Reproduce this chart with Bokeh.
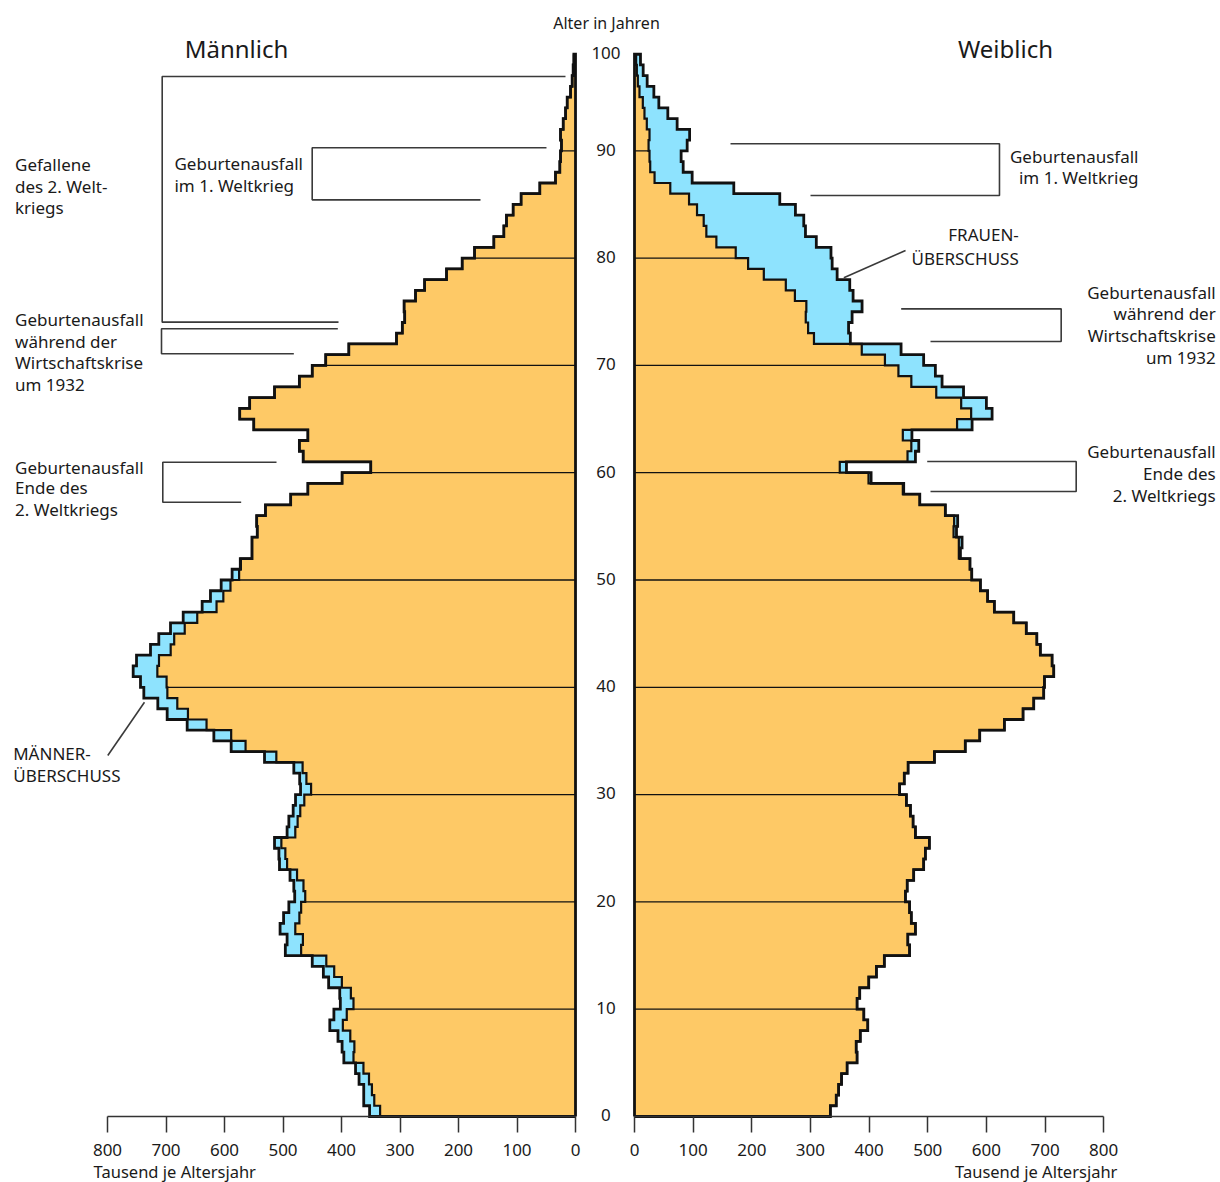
from bokeh.plotting import figure
from bokeh.models import Range1d, LinearAxis, FixedTicker, ColumnDataSource
from bokeh.core.properties import value
from bokeh.embed import file_html
from bokeh.resources import INLINE

# ---------------- data (thousands per single year of age, ages 0..98) ----------------
ages = list(range(99))
male = [352, 362, 362, 370, 376, 396, 399, 406, 420, 413,
        402, 403, 422, 431, 450, 496, 493, 505, 499, 490,
        480, 481.5, 488, 506, 507, 514.5, 493, 490, 482.6, 478.6,
        470, 471.5, 481.5, 531.6, 588.6, 618.2, 663.8, 698, 714, 737.9,
        743.6, 756.1, 750.4, 726.5, 712.3, 692.3, 670.6, 638.2, 624, 605.7,
        587, 573, 553, 553, 544, 545, 530, 487, 457.5, 399,
        350, 465.5, 472, 457.5, 550, 574, 557, 514.5, 472, 450,
        427, 387.5, 306, 296, 292, 293, 273.5, 258, 220.5, 193.7,
        172.6, 139.6, 122.5, 118, 106.6, 93, 61, 34.2, 26.8, 25.6,
        24, 25.6, 21, 17, 14.2, 8.5, 5.7, 4, 2.8]
female = [334, 344, 348, 353, 362.5, 379.5, 378, 385, 397.7, 391,
          379.5, 384, 399.4, 412.5, 426, 469, 466, 479, 472, 469,
          462, 465, 476, 493, 496, 502.8, 479, 475, 470.5, 463.6,
          452, 460, 466.5, 511.4, 564, 588.6, 630.7, 662.5, 680.7, 697.7,
          699, 714.8, 712, 692, 686, 668, 646.6, 613.6, 602, 589.8,
          575, 572, 555.7, 558.5, 549, 551, 530, 486.4, 459, 403.4,
          361.4, 479, 484.7, 473, 575.6, 609.7, 600, 561, 524.4, 513,
          493, 454.5, 368, 365, 371, 388, 372.7, 367, 345.5, 337,
          335, 310, 291.5, 288.6, 274.4, 247.7, 169.3, 98.3, 83, 79.5,
          89.8, 94, 72.7, 56.8, 41.5, 33, 21.6, 14.8, 10.2]

age_ticks = [0, 10, 20, 30, 40, 50, 60, 70, 80, 90, 100]
age_tick_labels = [str(t) for t in age_ticks]
value_ticks = [0, 100, 200, 300, 400, 500, 600, 700, 800]
grid_ages = [10, 20, 30, 40, 50, 60, 70, 80, 90]

ORANGE = "#FEC966"
BLUE = "#8EE3FE"
INK = "#111111"
TXT = "#1a1a1a"
FONT = value("Noto Sans")
DY = 0.70   # baseline correction (age units) for text glyphs

common = [min(m, f) for m, f in zip(male, female)]
top_age = len(ages)


def step_path(vals):
    xs, ys = [0], [0]
    for a, v in zip(ages, vals):
        xs += [v, v]
        ys += [a, a + 1]
    xs.append(0)
    ys.append(top_age)
    return xs, ys


p = figure(width=1220, height=1182,
           x_range=Range1d(982.91, -1102.56),       # male scale (reversed)
           y_range=Range1d(-6.151, 104.007),
           output_backend="svg", toolbar_location=None,
           x_axis_location=None, y_axis_location=None,
           min_border=0, min_border_left=0, min_border_right=0,
           min_border_top=0, min_border_bottom=0)
p.extra_x_ranges = {"f": Range1d(-1080.99, 999.15)}   # female scale
p.xgrid.visible = False
p.ygrid.visible = False
p.outline_line_color = None
p.background_fill_color = "white"
p.border_fill_color = "white"

sides = [("default", male), ("f", female)]
for rng, own in sides:
    ox, oy = step_path(own)
    cx, cy = step_path(common)
    # whole own population in blue, common part in orange on top
    p.patch(ox, oy, fill_color=BLUE, line_color=None, x_range_name=rng)
    p.patch(cx, cy, fill_color=ORANGE, line_color=None, x_range_name=rng)
    # 10-year lines inside the common part
    p.segment(x0=[0] * len(grid_ages), y0=grid_ages,
              x1=[common[a] for a in grid_ages], y1=grid_ages,
              line_color=INK, line_width=1.3, x_range_name=rng)
    # boundary between common part and surplus
    p.line(cx[1:-1], cy[1:-1], line_color=INK, line_width=2.2, line_join="miter",
           x_range_name=rng)
    # outline of own values incl. centre line
    p.line(ox + [0], oy + [0], line_color=INK, line_width=2.8, line_join="miter",
           x_range_name=rng)

# value axes at age 0
for rng in ["default", "f"]:
    ax = LinearAxis(x_range_name=rng, fixed_location=0, bounds=(0, 800),
                    ticker=FixedTicker(ticks=value_ticks))
    ax.axis_line_color = "#333333"
    ax.axis_line_width = 1.5
    ax.major_tick_line_color = "#333333"
    ax.major_tick_line_width = 1.5
    ax.major_tick_out = 16
    ax.major_tick_in = 0
    ax.minor_tick_out = 0
    ax.minor_tick_in = 0
    ax.major_label_standoff = 12
    ax.major_label_text_font = "Noto Sans"
    ax.major_label_text_font_size = "17px"
    ax.major_label_text_color = TXT
    p.add_layout(ax, "below")

# age labels in the gap between the halves
p.text(x=[-52.1] * len(age_ticks), y=[min(t, top_age) - 0.59 + DY for t in age_ticks],
       text=age_tick_labels, text_font=FONT, text_font_size="17px",
       text_align="center", text_baseline="alphabetic", text_color=TXT)

# headings
p.text(x=[579.5], y=[98.88 + DY], text=["Männlich"], text_font=FONT, text_font_size="24px",
       text_align="center", text_baseline="alphabetic", text_color=TXT)
p.text(x=[632.6], y=[98.88 + DY], text=["Weiblich"], text_font=FONT, text_font_size="24px",
       text_align="center", text_baseline="alphabetic", text_color=TXT, x_range_name="f")
p.text(x=[-53.0], y=[101.21 + DY], text=["Alter in Jahren"], text_font=FONT,
       text_font_size="16px", text_align="center", text_baseline="alphabetic", text_color=TXT)
for rng in ["default", "f"]:
    p.text(x=[685], y=[-5.12], text=["Tausend je Altersjahr"], text_font=FONT,
           text_font_size="16.5px", text_align="center", text_baseline="alphabetic",
           text_color=TXT, x_range_name=rng)

# annotation brackets
male_brackets_x = [[17.1, 706.5, 706.5, 405.1], [49.6, 450.1, 450.1, 162.4],
                   [406.3, 707.7, 707.7, 481.5], [511.1, 705.5, 705.5, 571.5],
                   [736.8, 799.5]]
male_brackets_y = [[96.92, 96.92, 74.03, 74.03], [90.28, 90.28, 85.43, 85.43],
                   [73.41, 73.41, 71.08, 71.08], [60.98, 60.98, 57.25, 57.25],
                   [38.61, 33.64]]
p.multi_line(xs=male_brackets_x, ys=male_brackets_y, line_color="#3a3a3a", line_width=1.6)

fem_brackets_x = [[163.7, 622.3, 622.3, 300.1], [356.9, 462.1],
                  [454.7, 727.5, 727.5, 504.7], [499.1, 753.1, 753.1, 504.7]]
fem_brackets_y = [[90.65, 90.65, 85.83, 85.83], [78.16, 80.71],
                  [75.27, 75.27, 72.23, 72.23], [61.04, 61.04, 58.25, 58.25]]
p.multi_line(xs=fem_brackets_x, ys=fem_brackets_y, line_color="#3a3a3a", line_width=1.6,
             x_range_name="f")

# annotation texts
male_notes = ColumnDataSource(dict(
    text=["Gefallene", "des 2. Welt-", "kriegs",
          "Geburtenausfall", "im 1. Weltkrieg",
          "Geburtenausfall", "während der", "Wirtschaftskrise", "um 1932",
          "Geburtenausfall", "Ende des", "2. Weltkriegs",
          "MÄNNER-", "ÜBERSCHUSS"],
    x=[958.1, 958.1, 958.1,
       685.5, 685.5,
       958.1, 958.1, 958.1, 958.1,
       958.1, 958.1, 958.1,
       961.2, 961.2],
    y=[y + DY for y in [88.0, 85.99, 83.97,
                        88.1, 86.05,
                        73.56, 71.55, 69.53, 67.50,
                        59.74, 57.88, 55.85,
                        33.11, 31.10]]))
p.text(x="x", y="y", text="text", source=male_notes, text_font=FONT, text_font_size="17px",
       text_align="left", text_baseline="alphabetic", text_color=TXT)

fem_notes = ColumnDataSource(dict(
    text=["Geburtenausfall", "im 1. Weltkrieg",
          "FRAUEN-", "ÜBERSCHUSS",
          "Geburtenausfall", "während der", "Wirtschaftskrise", "um 1932",
          "Geburtenausfall", "Ende des", "2. Weltkriegs"],
    x=[859.3, 859.3,
       655.2, 655.2,
       991.0, 991.0, 991.0, 991.0,
       991.0, 991.0, 991.0],
    y=[y + DY for y in [88.79, 86.77,
                        81.48, 79.22,
                        76.14, 74.14, 72.13, 70.08,
                        61.23, 59.18, 57.22]]))
p.text(x="x", y="y", text="text", source=fem_notes, text_font=FONT, text_font_size="17px",
       text_align="right", text_baseline="alphabetic", text_color=TXT, x_range_name="f")

open("out.html", "w").write(file_html(p, INLINE))
